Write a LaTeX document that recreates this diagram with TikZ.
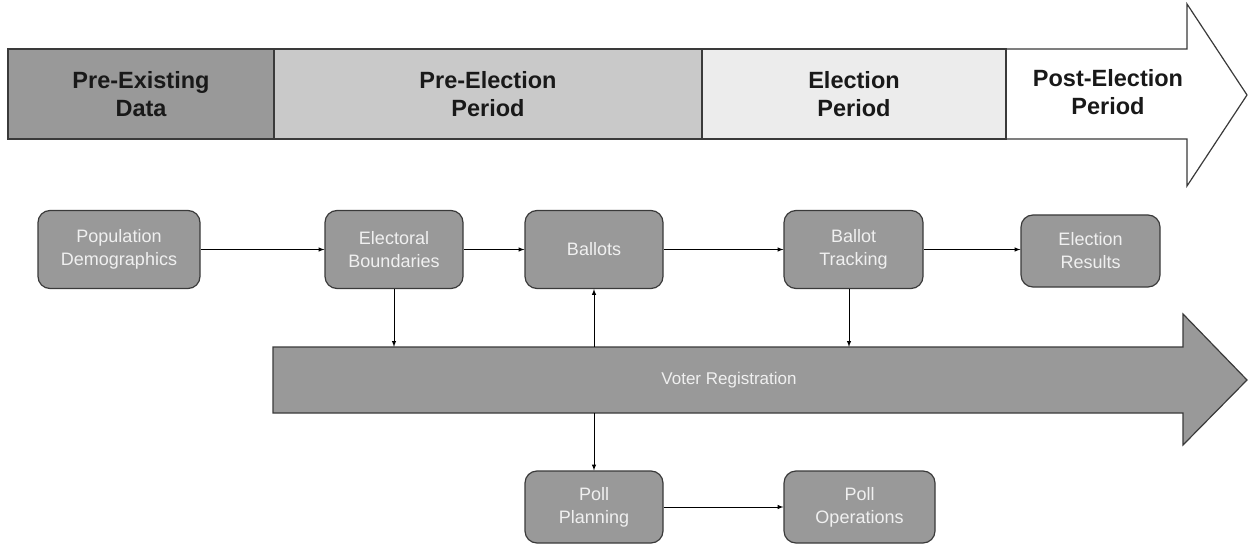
\documentclass[tikz,border=0pt]{standalone}
\usepackage{fontspec}
\setmainfont{Liberation Sans}
\usetikzlibrary{arrows}

\definecolor{phasedark}{HTML}{999999}
\definecolor{phasemid}{HTML}{C9C9C9}
\definecolor{phaselight}{HTML}{ECECEC}
\definecolor{boxgrey}{HTML}{999999}
\definecolor{boxtext}{HTML}{F0F0F0}
\definecolor{edgegrey}{HTML}{3A3A3A}

\begin{document}
\begin{tikzpicture}[x=1pt,y=-1pt,
    phase/.style={draw=edgegrey, line width=1.2pt, minimum height=90pt,
        inner sep=0pt, align=center, text=black!90,
        font=\bfseries\fontsize{23.5}{28}\selectfont},
    stage/.style={draw=edgegrey, fill=boxgrey, rounded corners=12pt,
        line width=1.2pt, minimum width=138pt, minimum height=78pt,
        inner sep=0pt, align=center, text=boxtext,
        font=\fontsize{18}{23}\selectfont},
    link/.style={-latex, line width=1pt}]

    \useasboundingbox (0,0) rectangle (1249,545);

    % timeline banner
    \draw [line width=1.2pt, draw=edgegrey, fill=white] (8,49)
        -- (1187,49) -- (1187,4) -- (1247,95) -- (1187,186)
        -- (1187,139) -- (8,139) -- cycle;
    \node[phase, fill=phasedark, minimum width=266pt] (pre) at (141,94)
        {Pre-Existing\\Data};
    \node[phase, fill=phasemid, minimum width=428pt] (before) at (488,94)
        {Pre-Election\\Period};
    \node[phase, fill=phaselight, minimum width=304pt] (during) at (854,94)
        {Election\\Period};
    \node[phase, draw=none, minimum width=181pt] (after) at (1108,92)
        {Post-Election\\Period};

    % voter registration arrow
    \draw [line width=1.2pt, draw=edgegrey, fill=boxgrey] (273,347)
        -- (1183,347) -- (1183,314) -- (1247,380) -- (1183,445)
        -- (1183,413) -- (273,413) -- cycle;
    \node[minimum width=910pt, minimum height=66pt, inner sep=0pt,
        text=boxtext, font=\fontsize{17}{23}\selectfont]
        (voter) at (729,380) {Voter Registration};

    % stages
    \node[stage, minimum width=162pt] (pop) at (119,249.5)
        {Population\\Demographics};
    \node[stage] (elb) at (394,249.5) {Electoral\\Boundaries};
    \node[stage] (bal) at (594,249.5) {Ballots};
    \node[stage, minimum width=139pt] (trk) at (853.5,249.5)
        {Ballot\\Tracking};
    \node[stage, minimum width=139pt, minimum height=72pt] (res)
        at (1090.5,251) {Election\\Results};
    \node[stage, minimum height=72pt] (plan) at (594,507)
        {Poll\\Planning};
    \node[stage, minimum width=151pt, minimum height=72pt] (ops)
        at (859.5,507) {Poll\\Operations};

    % links
    \draw [link] (pop) -- (elb);
    \draw [link] (elb) -- (bal);
    \draw [link] (bal) -- (trk);
    \draw [link] (trk.east) -- (trk.east -| res.west);
    \draw [link] (elb.south) -- (elb.south |- voter.north);
    \draw [link] (voter.north -| bal.south) -- (bal.south);
    \draw [link] ([xshift=-4.5pt]trk.south)
        -- ([xshift=-4.5pt]trk.south |- voter.north);
    \draw [link] (voter.south -| plan.north) -- (plan.north);
    \draw [link] (plan) -- (ops);
\end{tikzpicture}
\end{document}
